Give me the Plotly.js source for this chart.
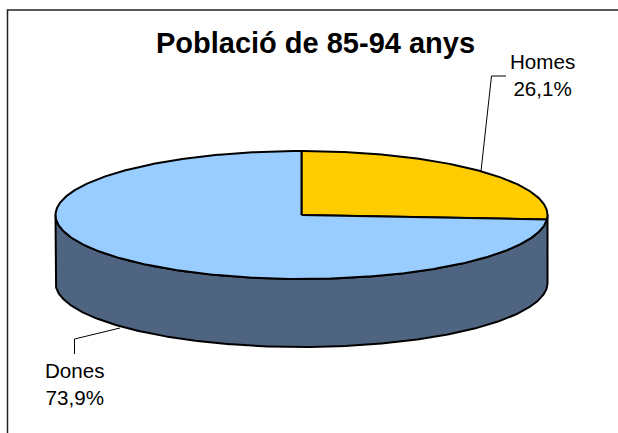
<!DOCTYPE html>
<html><head><meta charset="utf-8">
<script src="https://cdn.plot.ly/plotly-3.0.1.min.js"></script>
<style>html,body{margin:0;padding:0;background:#fff}#c{width:618px;height:433px}</style>
</head><body><div id="c"></div>
<script>
const categories = ["Homes", "Dones"];
const values = [26.1, 73.9];
const valueLabels = ["26,1%", "73,9%"];
const sliceColors = ["#FFCC00", "#99CCFF"];
const wallColor = "#4F6480";
const chartTitle = "Població de 85-94 anys";

const W = 618, H = 433;
const cx = 301.5, cy = 215, rx = 246, ry = 64, depth = 68;
const total = values.reduce((a, b) => a + b, 0);
const px = t => cx + rx * Math.sin(t * Math.PI / 180);
const py = (t, d) => cy - ry * Math.cos(t * Math.PI / 180) + (d || 0);

function sweep(a, b) { const o = []; const n = Math.max(2, Math.ceil(Math.abs(b - a) * 2)); for (let i = 0; i <= n; i++) o.push(a + (b - a) * i / n); return o; }

const traces = [];
// side wall (front half of the cylinder)
const upperEdge = sweep(90, 270), lowerEdge = sweep(270, 90);
traces.push({
  type: "scatter", mode: "lines", fill: "toself", fillcolor: wallColor,
  x: upperEdge.map(px).concat(lowerEdge.map(px)).concat([px(90)]),
  y: upperEdge.map(t => py(t)).concat(lowerEdge.map(t => py(t, depth))).concat([py(90)]),
  line: { color: "#000", width: 2 }, hoverinfo: "skip"
});
// top face slices, clockwise from 12 o'clock
let start = 0;
values.forEach((v, i) => {
  const end = start + v / total * 360;
  const a = sweep(start, end);
  traces.push({
    type: "scatter", mode: "lines", fill: "toself", fillcolor: sliceColors[i], name: categories[i],
    x: [cx].concat(a.map(px)).concat([cx]),
    y: [cy].concat(a.map(t => py(t))).concat([cy]),
    line: { color: "#000", width: 2 }, hoverinfo: "skip"
  });
  start = end;
});
// leader lines
const thin = { color: "#000", width: 1 };
traces.push({ type: "scatter", mode: "lines", x: [481, 491.5, 506], y: [171, 76, 76], line: thin, hoverinfo: "skip" });
traces.push({ type: "scatter", mode: "lines", x: [120, 74.5, 74.5], y: [328, 339, 354], line: thin, hoverinfo: "skip" });
// frame: top and left rules only
traces.push({ type: "scatter", mode: "lines", x: [W, 7.5, 7.5], y: [10, 10, H], line: { color: "#222", width: 1.5 }, hoverinfo: "skip" });

const textFont = { family: "Liberation Sans, Arial, sans-serif", size: 20.6, color: "#000" };
const layout = {
  width: W, height: H, margin: { l: 0, r: 0, t: 0, b: 0 }, showlegend: false,
  paper_bgcolor: "#fff", plot_bgcolor: "#fff",
  title: { text: "<b>" + chartTitle + "</b>", x: 315.5 / W, xanchor: "center", y: 1 - 43 / H, yanchor: "middle",
           font: { family: "Liberation Sans, Arial, sans-serif", size: 29, color: "#000" } },
  xaxis: { range: [0, W], visible: false, fixedrange: true },
  yaxis: { range: [H, 0], visible: false, fixedrange: true },
  annotations: [
    { x: 542.5, y: 75, text: categories[0] + "<br>" + valueLabels[0] },
    { x: 74.5, y: 384, text: categories[1] + "<br>" + valueLabels[1] }
  ].map(a => Object.assign(a, { xref: "x", yref: "y", showarrow: false, xanchor: "center", yanchor: "middle", align: "center", font: textFont }))
};
Plotly.newPlot("c", traces, layout, { displayModeBar: false, staticPlot: true });
</script></body></html>
